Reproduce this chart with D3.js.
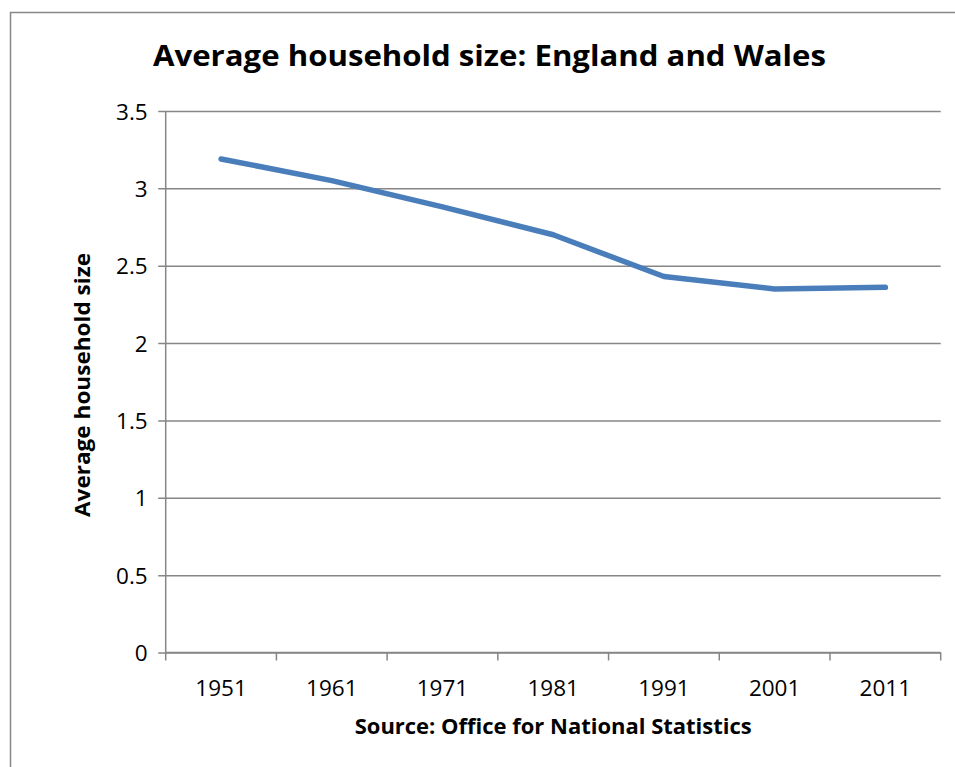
<!DOCTYPE html>
<html>
<head>
<meta charset="utf-8">
<script src="https://cdn.jsdelivr.net/npm/d3@7"></script>
<style>
  html, body { margin: 0; padding: 0; background: #fff; }
  svg { display: block; }
  text { font-family: "Open Sans", Lato, "Liberation Sans", sans-serif; fill: #000; }
</style>
</head>
<body>
<svg id="chart" width="955" height="767"></svg>
<script>
// Census years and average household size (persons per household)
const years = ["1951", "1961", "1971", "1981", "1991", "2001", "2011"];
const householdSize = [3.19, 3.05, 2.88, 2.70, 2.43, 2.35, 2.36];
const yTicks = [0, 0.5, 1, 1.5, 2, 2.5, 3, 3.5];

const titleText = "Average household size: England and Wales";
const xTitleText = "Source: Office for National Statistics";
const yTitleText = "Average household size";

const svg = d3.select("#chart");
const plot = { left: 165.7, right: 940.7, top: 111, bottom: 652.5 };
const grid = "#868686";

// Outer chart frame
svg.append("rect")
  .attr("x", 10.5).attr("y", 12.5)
  .attr("width", 1000).attr("height", 1000)
  .attr("fill", "#fff").attr("stroke", "#878787").attr("stroke-width", 1.5);

const x = d3.scaleBand().domain(years).range([plot.left, plot.right]).paddingInner(0).paddingOuter(0);
const y = d3.scaleLinear().domain([0, 3.5]).range([plot.bottom, plot.top]);

// Horizontal gridlines with short left ticks and labels
const yAxis = d3.axisLeft(y)
  .tickValues(yTicks)
  .tickSize(plot.right - plot.left + 7.5)
  .tickPadding(18)
  .tickFormat(d3.format("~g"));

const yg = svg.append("g")
  .attr("transform", `translate(${plot.right},0)`)
  .call(yAxis);
yg.select(".domain").remove();
yg.selectAll(".tick line").attr("stroke", grid).attr("stroke-width", 1.5);
yg.selectAll(".tick text")
  .style("font-size", "22.5px")
  .attr("fill", "#000")
  .attr("x", -(plot.right - plot.left) - 18)
  .attr("dy", "0.36em");

// Vertical axis line
svg.append("line")
  .attr("x1", plot.left).attr("x2", plot.left)
  .attr("y1", plot.top).attr("y2", plot.bottom)
  .attr("stroke", grid).attr("stroke-width", 1.5);

// Category axis: ticks sit on category boundaries
const xAxis = d3.axisBottom(x).tickSize(0).tickPadding(0);
const xg = svg.append("g")
  .attr("transform", `translate(0,${plot.bottom})`)
  .call(xAxis);
xg.select(".domain").attr("stroke", grid).attr("stroke-width", 1.5)
  .attr("d", `M${plot.left},0H${plot.right}`);
xg.selectAll(".tick line").remove();
xg.selectAll(".tick text")
  .style("font-size", "22.5px")
  .attr("fill", "#000")
  .attr("dy", null)
  .attr("y", 43.5);

const boundaries = years.map(d => x(d)).concat([x(years[years.length - 1]) + x.bandwidth()]);
svg.append("g").selectAll("line")
  .data(boundaries)
  .join("line")
  .attr("x1", d => d).attr("x2", d => d)
  .attr("y1", plot.bottom).attr("y2", plot.bottom + 8)
  .attr("stroke", grid).attr("stroke-width", 1.5);

// Data line
const line = d3.line()
  .x((d, i) => x(years[i]) + x.bandwidth() / 2)
  .y(d => y(d));

svg.append("path")
  .datum(householdSize)
  .attr("d", line)
  .attr("fill", "none")
  .attr("stroke", "#4a7ebb")
  .attr("stroke-width", 5.5)
  .attr("stroke-linejoin", "round")
  .attr("stroke-linecap", "round");

// Title
svg.append("text")
  .attr("x", 489.5).attr("y", 66)
  .attr("text-anchor", "middle")
  .style("font-size", "29px").style("font-weight", "bold")
  .attr("textLength", 673).attr("lengthAdjust", "spacingAndGlyphs")
  .text(titleText);

// Category axis title
svg.append("text")
  .attr("x", (plot.left + plot.right) / 2).attr("y", 734)
  .attr("text-anchor", "middle")
  .style("font-size", "20.5px").style("font-weight", "bold")
  .attr("textLength", 397).attr("lengthAdjust", "spacingAndGlyphs")
  .text(xTitleText);

// Value axis title
svg.append("text")
  .attr("transform", `translate(90,385) rotate(-90)`)
  .attr("text-anchor", "middle")
  .style("font-size", "20.5px").style("font-weight", "bold")
  .attr("textLength", 264).attr("lengthAdjust", "spacingAndGlyphs")
  .text(yTitleText);
</script>
</body>
</html>
